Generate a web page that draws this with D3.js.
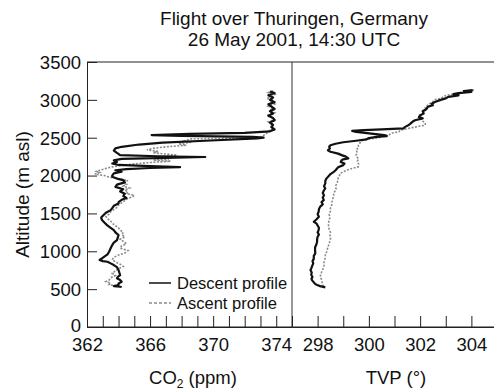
<!DOCTYPE html>
<html><head><meta charset="utf-8">
<script src="https://cdn.jsdelivr.net/npm/d3@7"></script>
<style>
html,body{margin:0;padding:0;background:#fff;}
svg{display:block;font-family:"Liberation Sans",Arial,Helvetica,sans-serif;}
</style></head>
<body>
<svg id="c" width="494" height="390"></svg>
<script>
const titleLines = ["Flight over Thuringen, Germany", "26 May 2001, 14:30 UTC"];
const altTicks = [0,500,1000,1500,2000,2500,3000,3500];
const co2Ticks = [362,363,364,365,366,367,368,369,370,371,372,373,374];
const co2Labels = [362,366,370,374];
const tvpTicks = [297,298,299,300,301,302,303,304];
const tvpLabels = [298,300,302,304];
const legendLabels = ["Descent profile","Ascent profile"];

// [altitude m, CO2 ppm]
const co2Descent = [[3110,373.6],[3090,373.9],[3060,373.5],[3030,373.8],[3000,373.6],[2970,373.9],[2940,373.5],[2910,373.7],[2880,373.9],[2850,373.6],[2820,373.8],[2790,373.5],[2760,373.8],[2730,373.9],[2700,373.6],[2670,373.8],[2640,373.7],[2610,373.9],[2585,373.6],[2565,372.0],[2550,368.5],[2535,366.1],[2525,368.0],[2512,372.5],[2500,373.2],[2490,372.8],[2460,369.5],[2435,366.8],[2410,365.3],[2380,364.2],[2360,363.8],[2330,363.7],[2300,363.9],[2270,364.1],[2255,366.5],[2245,369.5],[2235,367.0],[2220,364.2],[2200,363.7],[2180,363.9],[2160,363.6],[2140,364.0],[2125,366.0],[2112,367.9],[2100,366.0],[2085,364.5],[2070,363.8],[2050,364.2],[2030,363.7],[2000,363.6],[1985,363.6],[1960,363.9],[1940,364.3],[1910,364.4],[1880,363.9],[1850,363.8],[1820,364.3],[1790,364.1],[1760,364.4],[1730,364.3],[1705,364.5],[1680,364.2],[1650,364.0],[1630,364.0],[1600,363.7],[1570,363.6],[1544,363.5],[1510,363.2],[1478,363.05],[1445,362.9],[1412,362.95],[1380,363.1],[1346,363.27],[1310,363.5],[1280,363.7],[1250,363.8],[1214,364.0],[1180,363.95],[1148,363.9],[1115,363.7],[1082,363.6],[1040,363.5],[994,363.4],[960,363.3],[930,363.1],[907,362.95],[885,362.8],[870,363.0],[862,363.3],[840,363.5],[818,363.7],[790,363.9],[752,364.0],[720,364.05],[686,364.1],[660,363.95],[643,363.9],[620,364.1],[598,364.2],[575,364.0],[554,364.0],[540,363.7],[532,364.1],[528,364.2]];
const co2Ascent = [[3120,373.8],[3095,373.5],[3070,373.9],[3045,373.6],[3020,373.4],[2995,373.8],[2970,373.6],[2945,373.9],[2915,373.5],[2890,373.8],[2860,373.6],[2830,373.9],[2800,373.5],[2770,373.7],[2740,373.9],[2710,373.5],[2680,373.8],[2650,373.6],[2620,373.8],[2590,373.5],[2560,373.4],[2530,373.2],[2500,373.0],[2490,370.5],[2485,368.6],[2460,368.2],[2440,368.6],[2420,367.8],[2400,368.3],[2380,367.0],[2360,366.2],[2340,365.8],[2320,366.5],[2300,366.2],[2285,367.0],[2270,367.7],[2255,366.9],[2235,366.3],[2220,367.2],[2205,366.2],[2190,367.3],[2170,365.8],[2150,364.8],[2135,364.3],[2115,363.6],[2095,363.2],[2075,362.9],[2055,362.6],[2040,362.8],[2020,362.5],[2000,363.1],[1980,363.4],[1960,363.9],[1935,364.6],[1910,364.2],[1885,364.5],[1860,364.3],[1835,364.7],[1810,364.4],[1785,364.6],[1760,364.5],[1740,365.0],[1720,364.9],[1700,364.6],[1670,364.4],[1640,364.2],[1610,364.0],[1580,363.9],[1550,363.7],[1520,363.5],[1490,363.4],[1460,363.2],[1430,363.3],[1400,363.5],[1370,363.6],[1340,363.8],[1310,364.0],[1280,364.1],[1250,364.3],[1220,364.2],[1190,364.4],[1160,364.1],[1130,364.3],[1100,364.5],[1070,364.2],[1040,364.1],[1010,364.6],[977,364.4],[950,364.0],[920,363.7],[890,363.6],[860,363.8],[830,364.1],[800,364.3],[770,364.0],[740,363.8],[710,363.6],[680,363.8],[650,363.5],[620,363.4],[600,363.2],[580,363.5],[560,363.4],[545,363.8]];
// [altitude m, TVP]
const tvpDescent = [[3128,304.05],[3115,303.7],[3105,304.0],[3090,303.5],[3075,303.3],[3060,303.5],[3040,303.1],[3019,303.0],[3000,302.8],[2974,302.6],[2950,302.45],[2930,302.5],[2908,302.3],[2880,302.25],[2850,302.1],[2821,302.14],[2798,302.0],[2770,301.95],[2755,302.1],[2730,301.8],[2710,301.7],[2680,301.6],[2657,301.5],[2640,301.4],[2623,301.35],[2610,300.5],[2600,299.8],[2590,299.35],[2578,299.5],[2555,300.1],[2535,300.6],[2521,300.7],[2510,300.3],[2495,300.0],[2477,299.9],[2460,299.5],[2440,299.0],[2420,298.7],[2400,298.5],[2380,298.45],[2359,298.48],[2335,298.4],[2314,298.5],[2290,298.8],[2270,298.94],[2250,299.1],[2227,299.2],[2215,299.0],[2204,298.94],[2180,298.9],[2160,299.05],[2138,299.0],[2110,298.8],[2090,298.75],[2070,298.7],[2050,298.63],[2020,298.5],[2000,298.45],[1963,298.35],[1930,298.3],[1897,298.3],[1860,298.25],[1830,298.3],[1808,298.25],[1770,298.2],[1740,298.25],[1710,298.2],[1676,298.24],[1650,298.15],[1620,298.2],[1590,298.1],[1555,298.05],[1522,298.04],[1490,298.0],[1456,298.05],[1420,297.95],[1390,297.85],[1369,297.95],[1340,298.0],[1310,298.05],[1280,298.04],[1250,298.0],[1220,298.05],[1192,298.0],[1160,297.98],[1126,297.98],[1090,297.95],[1050,297.9],[1016,297.9],[973,297.91],[940,297.85],[900,297.85],[870,297.8],[841,297.83],[800,297.78],[770,297.75],[752,297.72],[720,297.77],[690,297.75],[660,297.8],[640,297.76],[620,297.78],[590,297.85],[570,297.9],[554,297.98],[540,298.1],[524,298.3]];
const tvpAscent = [[3128,304.1],[3118,303.8],[3110,303.9],[3100,303.5],[3085,303.6],[3062,303.04],[3040,302.9],[3020,302.8],[3000,302.55],[2975,302.5],[2953,302.39],[2930,302.3],[2900,302.2],[2870,302.25],[2842,302.13],[2810,302.1],[2780,302.0],[2750,302.05],[2720,302.1],[2690,302.2],[2666,302.2],[2640,301.8],[2620,301.5],[2600,301.22],[2578,301.17],[2560,300.9],[2540,300.8],[2520,300.5],[2500,300.4],[2480,300.0],[2468,299.8],[2455,299.7],[2430,299.65],[2400,299.59],[2370,299.6],[2340,299.5],[2300,299.55],[2270,299.5],[2248,299.53],[2220,299.6],[2190,299.55],[2150,299.6],[2116,299.59],[2090,299.3],[2072,299.14],[2050,299.0],[2028,298.88],[2000,298.85],[1970,298.8],[1940,298.8],[1900,298.75],[1860,298.7],[1820,298.72],[1780,298.65],[1740,298.62],[1700,298.6],[1650,298.56],[1610,298.55],[1570,298.5],[1530,298.5],[1490,298.45],[1450,298.48],[1410,298.45],[1370,298.42],[1324,298.43],[1290,298.45],[1250,298.5],[1210,298.48],[1180,298.5],[1148,298.5],[1110,298.45],[1070,298.42],[1030,298.38],[990,298.35],[960,298.3],[929,298.3],[890,298.28],[850,298.25],[820,298.25],[796,298.24],[760,298.2],[720,298.15],[690,298.12],[664,298.1],[630,298.15],[600,298.17],[576,298.17],[555,298.2],[540,298.25]];

(function(){
const svg = d3.select("#c");
const pLeft = 87, pMid = 292, pTop = 62, pBottom = 327;
const y = d3.scaleLinear().domain([0,3500]).range([pBottom, pTop]);
const xC = d3.scaleLinear().domain([362,375]).range([pLeft, pMid]);
const xT = d3.scaleLinear().domain([297,305]).range([pMid, 497]);
const FS = 18.5;

svg.append("g").selectAll("text").data(titleLines).join("text")
  .attr("x", 294).attr("y", (d,i)=>25 + i*21)
  .attr("text-anchor","middle").attr("font-size",19).attr("fill","#111").text(d=>d);

svg.append("line").attr("x1",pLeft).attr("x2",494).attr("y1",pTop).attr("y2",pTop).attr("stroke","#222");
svg.append("line").attr("x1",pMid).attr("x2",pMid).attr("y1",pTop).attr("y2",pBottom).attr("stroke","#333");

const ay = svg.append("g").attr("transform",`translate(${pLeft},0)`)
  .call(d3.axisLeft(y).tickValues(altTicks).tickSizeInner(-10).tickSizeOuter(0).tickPadding(6).tickFormat(d3.format("d")));
ay.selectAll("text").attr("font-size",FS).attr("fill","#111").attr("dy",d=>d===0?"0.22em":"0.34em");

const ac = svg.append("g").attr("transform",`translate(0,${pBottom})`)
  .call(d3.axisBottom(xC).tickValues(co2Ticks).tickSizeInner(-11).tickSizeOuter(0).tickPadding(9)
    .tickFormat(d=>co2Labels.includes(d)?String(d):""));
ac.selectAll("text").attr("font-size",FS).attr("fill","#111").attr("dy","0.8em");
const at = svg.append("g").attr("transform",`translate(0,${pBottom})`)
  .call(d3.axisBottom(xT).tickValues(tvpTicks).tickSizeInner(-11).tickSizeOuter(0).tickPadding(9)
    .tickFormat(d=>tvpLabels.includes(d)?String(d):""));
at.selectAll("text").attr("font-size",FS).attr("fill","#111").attr("dy","0.8em");
svg.selectAll(".domain").attr("stroke","#222");
svg.selectAll(".tick line").attr("stroke","#222");

svg.append("line").attr("x1",pLeft).attr("x2",494).attr("y1",pBottom).attr("y2",pBottom).attr("stroke","#222");

svg.append("text").attr("transform",`translate(29,${(pTop+pBottom)/2}) rotate(-90)`)
  .attr("text-anchor","middle").attr("font-size",19).attr("fill","#111").text("Altitude (m asl)");
const co2t = svg.append("text").attr("x",193).attr("y",384).attr("text-anchor","middle").attr("font-size",FS).attr("fill","#111");
co2t.append("tspan").text("CO");
co2t.append("tspan").attr("font-size",12).attr("dy",4).text("2");
co2t.append("tspan").attr("dy",-4).text(" (ppm)");
svg.append("text").attr("x",396).attr("y",384).attr("text-anchor","middle").attr("font-size",FS).attr("fill","#111").text("TVP (°)");

const lineC = d3.line().x(d=>xC(d[1])).y(d=>y(d[0]));
const lineT = d3.line().x(d=>xT(d[1])).y(d=>y(d[0]));
const ascStyle = s=>s.attr("fill","none").attr("stroke","#8a8a8a").attr("stroke-width",1.6).attr("stroke-dasharray","2,1.5");
const desStyle = s=>s.attr("fill","none").attr("stroke","#111").attr("stroke-width",2.2).attr("stroke-linejoin","round");
svg.append("path").datum(co2Ascent).attr("d",lineC).call(ascStyle);
svg.append("path").datum(tvpAscent).attr("d",lineT).call(ascStyle);
svg.append("path").datum(co2Descent).attr("d",lineC).call(desStyle);
svg.append("path").datum(tvpDescent).attr("d",lineT).call(desStyle);

const lg = svg.append("g");
lg.append("line").attr("x1",149).attr("x2",171).attr("y1",283).attr("y2",283).attr("stroke","#111").attr("stroke-width",1.5);
lg.append("line").attr("x1",149).attr("x2",171).attr("y1",303).attr("y2",303).attr("stroke","#8a8a8a").attr("stroke-width",1.3).attr("stroke-dasharray","3,2");
lg.selectAll("text").data(legendLabels).join("text")
  .attr("x",177).attr("y",(d,i)=>283+i*20).attr("dy","0.35em")
  .attr("font-size",16.5).attr("fill","#111").text(d=>d);
})();
</script>
</body></html>
